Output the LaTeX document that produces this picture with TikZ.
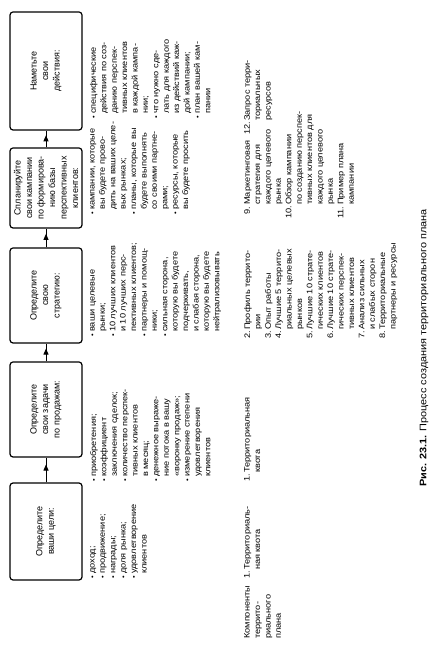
\documentclass[tikz,border=0pt]{standalone}
\usepackage{fontspec}
\setmainfont[FakeStretch=1.15]{Liberation Sans}
\newfontfamily\boxfam[FakeStretch=1.0]{Liberation Sans}
\usetikzlibrary{arrows.meta,calc}
\newcommand\bl{\makebox[5pt][l]{\fontsize{6.5}{6.5}\selectfont•}}
\newcommand\cl{\hspace*{5pt}}
\newcommand\nm[2]{\makebox[#1][l]{#2}}
\newcommand\txtfont{\fontsize{8}{10.4}\selectfont}
\newcommand\boxfont{\boxfam\fontsize{9}{11.5}\selectfont}
\begin{document}
\begin{tikzpicture}[x=1pt,y=1pt,
  box/.style={draw, line width=1.2pt, rounded corners=3pt, inner sep=0pt, align=center, font=\boxfont, minimum height=72pt},
  txt/.style={anchor=north west, inner sep=0pt, align=left, font=\txtfont},
  arr/.style={line width=0.9pt},
  tip/.style={line width=0.9pt, -{Triangle[length=6pt,width=5pt]}}]
\useasboundingbox[fill=white] (0,0) rectangle (436,667);
\begin{scope}[rotate=90, transform shape]
\node[box, minimum width=97pt] (b1) at (135.5,-46) {Определите\\ваши цели:};
\node[box, minimum width=95pt] (b2) at (257.5,-46) {Определите\\свои задачи\\по продажам:};
\node[box, minimum width=95pt] (b3) at (371.5,-46) {Определите\\свою\\стратегию:};
\node[box, minimum width=80pt] (b4) at (479,-46) {Спланируйте\\свои кампании\\по формирова-\\нию базы\\перспективных\\клиентов:};
\node[box, minimum width=118pt] (b5) at (596,-46) {Наметьте\\свои\\действия:};
\foreach \a/\b in {b1/b2,b2/b3,b3/b4,b4/b5}{
  \draw[arr] (\a.east) -- (\b.west);
  \draw[tip] (\a.east) -- ($(\a.east)!0.72!(\b.west)$);
}
\node[txt] (t1) at (88,-90) {\bl доход;\\
\bl продвижение;\\
\bl награды;\\
\bl доля рынка;\\
\bl удовлетворение\\
\cl клиентов};
\node[txt] (t2) at (185,-90) {\bl приобретения;\\
\bl коэффициент\\
\cl заключения сделок;\\
\bl количество перспек-\\
\cl тивных клиентов\\
\cl в месяц;\\
\bl денежное выраже-\\
\cl ние потока в вашу\\
\cl «воронку продаж»;\\
\bl измерение степени\\
\cl удовлетворения\\
\cl клиентов};
\node[txt] (t3) at (330,-90) {\bl ваши целевые\\
\cl рынки;\\
\bl 10 лучших клиентов\\
\cl и 10 лучших перс-\\
\cl пективных клиентов;\\
\bl партнеры и помощ-\\
\cl ники;\\
\bl сильная сторона,\\
\cl которую вы будете\\
\cl подчеркивать,\\
\cl и слабая сторона,\\
\cl которую вы будете\\
\cl нейтрализовывать};
\node[txt] (t4) at (452,-90) {\bl кампании, которые\\
\cl вы будете прово-\\
\cl дить на ваших целе-\\
\cl вых рынках;\\
\bl планы, которые вы\\
\cl будете выполнять\\
\cl со своими партне-\\
\cl рами;\\
\bl ресурсы, которые\\
\cl вы будете просить};
\node[txt] (t5) at (548,-90) {\bl специфические\\
\cl действия по соз-\\
\cl данию перспек-\\
\cl тивных клиентов\\
\cl в каждой кампа-\\
\cl нии;\\
\bl что нужно сде-\\
\cl лать для каждого\\
\cl из действий каж-\\
\cl дой кампании;\\
\bl план вашей кам-\\
\cl пании};
\node[txt] (l0) at (28,-244) {Компоненты\\террито-\\риального\\плана};
\node[txt] (l1) at (88,-244) {\nm{9pt}{1.}Территориаль-\\\nm{9pt}{}ная квота};
\node[txt] (l2) at (185,-244) {\nm{9pt}{1.}Территориальная\\\nm{9pt}{}квота};
\node[txt] (l3) at (328,-244) {\nm{9pt}{2.}Профиль террито-\\\nm{9pt}{}рии\\
\nm{9pt}{3.}Опыт работы\\
\nm{9pt}{4.}Лучшие 5 террито-\\\nm{9pt}{}риальных целевых\\\nm{9pt}{}рынков\\
\nm{9pt}{5.}Лучшие 10 страте-\\\nm{9pt}{}гических клиентов\\
\nm{9pt}{6.}Лучшие 10 страте-\\\nm{9pt}{}гических перспек-\\\nm{9pt}{}тивных клиентов\\
\nm{9pt}{7.}Анализ сильных\\\nm{9pt}{}и слабых сторон\\
\nm{9pt}{8.}Территориальные\\\nm{9pt}{}партнеры и ресурсы};
\node[txt] (l4) at (448,-244) {\nm{14pt}{\hspace*{4pt}9.}Маркетинговая\\\nm{14pt}{}стратегия для\\\nm{14pt}{}каждого целевого\\\nm{14pt}{}рынка\\
\nm{14pt}{10.}Обзор кампании\\\nm{14pt}{}по созданию перспек-\\\nm{14pt}{}тивных клиентов для\\\nm{14pt}{}каждого целевого\\\nm{14pt}{}рынка\\
\nm{14pt}{11.}Пример плана\\\nm{14pt}{}кампании};
\node[txt] (l5) at (532,-244) {\nm{14pt}{12.}Запрос терри-\\\nm{14pt}{}ториальных\\\nm{14pt}{}ресурсов};
\node[anchor=west, inner sep=0pt, font=\fontsize{9.5}{11}\selectfont] (cap) at (180,-424) {\textbf{Рис. 23.1.} Процесс создания территориального плана};
\end{scope}
\end{tikzpicture}
\end{document}
